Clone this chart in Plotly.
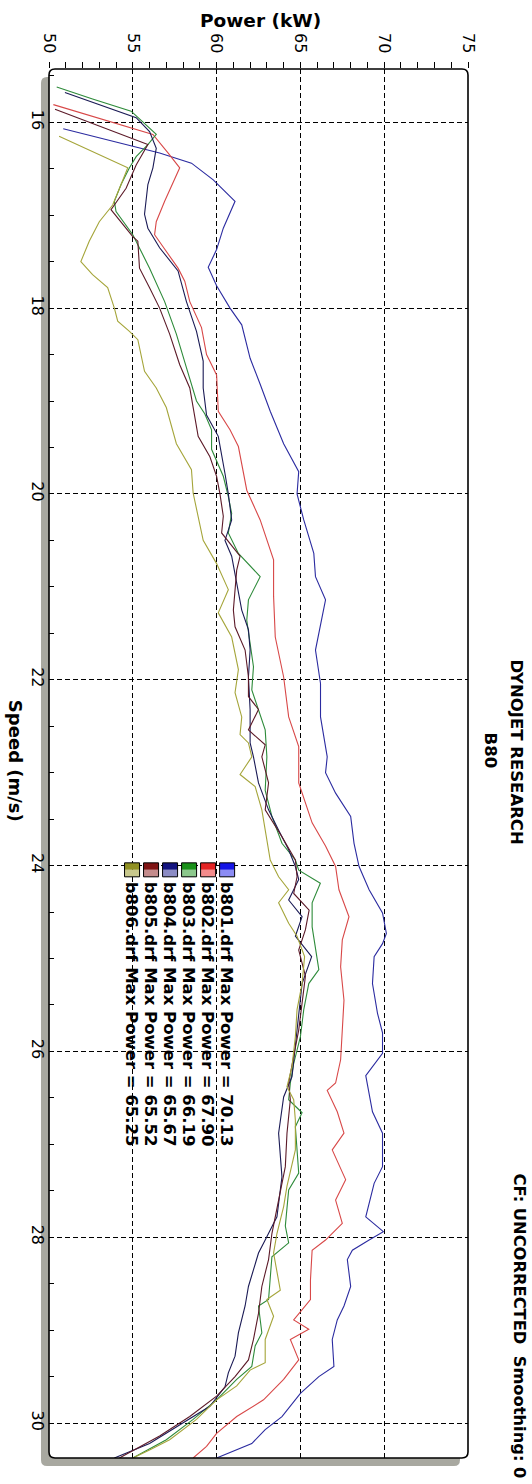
import plotly.graph_objects as go

# ---- dyno run data: speed (m/s) vs power (kW) ----
runs = ["b801.drf", "b802.drf", "b803.drf", "b804.drf", "b805.drf", "b806.drf"]
max_power = [70.13, 67.90, 66.19, 65.67, 65.52, 65.25]

b801_speed = [16.07, 16.25, 16.33, 16.44, 16.62, 16.85, 17.14, 17.37, 17.56, 17.76, 18.00, 18.18,
              18.54, 18.82, 19.11, 19.46, 19.76, 20.00, 20.28, 20.64, 20.89, 21.14, 21.43, 21.68,
              22.04, 22.40, 22.83, 23.00, 23.22, 23.47, 23.76, 24.01, 24.26, 24.51, 24.73, 24.84,
              24.98, 25.27, 25.59, 25.80, 26.02, 26.26, 26.65, 26.88, 27.24, 27.42, 27.78, 27.94,
              28.03, 28.14, 28.24, 28.53, 28.74, 28.89, 29.10, 29.39, 29.50, 29.68, 29.93, 30.07,
              30.22, 30.376]
b801_power = [50.85, 54.9, 56.6, 58.5, 59.8, 61.1, 60.4, 60.0, 59.5, 60.0, 60.8, 61.5,
              62.0, 62.6, 63.2, 64.0, 64.9, 64.8, 65.2, 65.8, 65.9, 66.5, 66.2, 65.9,
              66.2, 66.2, 66.6, 66.5, 67.1, 68.0, 68.2, 68.5, 69.1, 69.9, 70.13, 69.9,
              69.4, 69.3, 69.6, 69.9, 69.9, 68.9, 69.3, 69.9, 69.9, 69.4, 68.9, 69.95,
              69.1, 68.1, 67.8, 68.0, 67.6, 67.2, 66.9, 67.0, 66.1, 65.0, 63.9, 62.9,
              62.1, 60.0]

b802_speed = [15.81, 16.06, 16.13, 16.33, 16.49, 16.85, 17.07, 17.21, 17.37, 17.57, 17.71, 17.93,
              18.21, 18.50, 18.72, 19.11, 19.31, 19.49, 19.96, 20.28, 20.71, 21.10, 21.54, 21.97,
              22.40, 22.72, 23.11, 23.54, 23.79, 24.01, 24.26, 24.55, 24.80, 25.09, 25.45, 25.80,
              26.09, 26.34, 26.42, 26.65, 26.88, 27.06, 27.38, 27.60, 27.85, 28.03, 28.14, 28.46,
              28.67, 28.89, 28.99, 29.10, 29.32, 29.53, 29.75, 29.93, 30.11, 30.25, 30.376]
b802_power = [50.26, 55.0, 56.2, 57.1, 57.8, 56.9, 56.4, 56.3, 56.9, 57.7, 58.1, 58.4,
              59.1, 59.4, 60.0, 60.1, 60.8, 61.3, 61.8, 62.6, 63.4, 63.4, 63.5, 64.0,
              64.3, 64.9, 64.9, 65.7, 66.5, 67.1, 67.3, 67.90, 67.5, 67.4, 67.6, 67.5,
              67.4, 67.1, 66.6, 67.2, 67.6, 66.9, 67.7, 67.1, 67.5, 66.5, 65.7, 65.6,
              65.6, 64.6, 65.5, 64.4, 64.9, 64.0, 62.8, 61.2, 60.0, 59.4, 58.6]

b803_speed = [15.62, 15.75, 15.88, 16.03, 16.13, 16.24, 16.37, 16.49, 16.67, 16.85, 16.96, 17.21,
              17.57, 17.93, 18.28, 18.64, 19.00, 19.14, 19.31, 19.52, 19.81, 20.03, 20.21, 20.42,
              20.64, 20.89, 21.14, 21.36, 21.61, 21.86, 22.11, 22.32, 22.54, 22.83, 23.19, 23.47,
              23.76, 23.94, 24.05, 24.19, 24.40, 24.66, 25.12, 25.27, 25.55, 25.84, 26.13, 26.34,
              26.52, 26.66, 26.81, 27.31, 27.49, 27.88, 28.06, 28.21, 28.67, 28.74, 29.03, 29.17,
              29.39, 29.53, 29.75, 29.96, 30.18, 30.376]
b803_power = [50.46, 52.6, 54.9, 55.8, 56.4, 55.9, 55.2, 54.8, 54.3, 53.9, 54.0, 55.0,
              56.0, 56.9, 57.6, 58.2, 58.8, 59.3, 59.7, 59.7, 60.4, 60.7, 60.9, 60.7,
              61.3, 62.6, 61.9, 61.8, 62.0, 62.2, 62.1, 62.5, 62.9, 63.0, 62.9, 63.3,
              63.9, 64.7, 64.9, 66.19, 65.7, 65.7, 66.1, 65.5, 65.2, 65.0, 64.6, 64.4,
              64.3, 65.1, 64.7, 64.9, 64.3, 64.1, 64.3, 63.3, 63.1, 62.5, 62.7, 62.3,
              62.1, 61.2, 60.0, 58.6, 57.0, 55.0]

b804_speed = [15.68, 15.95, 16.10, 16.28, 16.49, 16.67, 16.99, 17.14, 17.35, 17.60, 17.93, 18.25,
              18.57, 18.86, 19.15, 19.38, 19.78, 20.00, 20.28, 20.50, 20.67, 20.96, 21.25, 21.46,
              21.68, 21.97, 22.32, 22.68, 22.83, 23.11, 23.40, 23.62, 23.83, 24.01, 24.15, 24.37,
              24.55, 24.76, 24.98, 25.27, 25.62, 25.91, 26.27, 26.49, 26.88, 27.35, 27.78, 28.03,
              28.17, 28.53, 28.74, 29.03, 29.28, 29.46, 29.61, 29.82, 30.00, 30.22, 30.376]
b804_power = [50.95, 55.2, 56.0, 56.4, 56.2, 55.9, 55.7, 55.9, 56.6, 57.7, 58.2, 58.8,
              59.2, 59.2, 59.4, 60.1, 60.5, 60.7, 60.9, 60.5, 60.9, 61.2, 61.5, 61.9,
              62.0, 61.9, 62.0, 62.0, 62.2, 62.5, 63.1, 63.7, 64.3, 64.7, 64.9, 64.3,
              65.1, 64.7, 65.67, 65.1, 64.9, 64.7, 64.5, 64.0, 63.7, 63.9, 63.6, 62.9,
              62.5, 61.9, 61.7, 61.3, 61.1, 60.7, 60.5, 59.6, 58.0, 56.0, 53.9]

b805_speed = [15.86, 16.17, 16.24, 16.46, 16.71, 16.94, 17.23, 17.28, 17.57, 17.78, 18.00, 18.28,
              18.61, 18.86, 19.15, 19.38, 19.60, 19.81, 20.00, 20.24, 20.42, 20.67, 20.82, 21.25,
              21.43, 21.68, 21.97, 22.18, 22.32, 22.54, 22.70, 22.83, 23.11, 23.40, 23.69, 23.94,
              24.12, 24.30, 24.48, 24.69, 24.91, 25.19, 25.48, 25.77, 26.05, 26.34, 26.52, 26.88,
              27.24, 27.60, 27.96, 28.24, 28.53, 28.82, 29.10, 29.32, 29.50, 29.71, 29.93, 30.14,
              30.376]
b805_power = [50.36, 54.8, 55.9, 55.2, 54.6, 53.7, 55.0, 55.3, 55.4, 56.0, 56.6, 57.2,
              57.8, 58.4, 58.7, 58.9, 59.6, 60.0, 60.2, 60.4, 60.3, 61.4, 61.2, 61.0,
              61.1, 61.7, 61.9, 61.9, 62.5, 61.9, 62.9, 62.7, 63.1, 62.9, 63.9, 64.7,
              64.8, 64.6, 65.52, 65.3, 64.9, 65.3, 65.1, 64.9, 64.6, 64.3, 64.4, 64.2,
              64.1, 63.7, 63.3, 63.1, 62.7, 62.5, 62.2, 61.9, 61.1, 60.0, 58.4, 56.6,
              54.2]

b806_speed = [16.15, 16.49, 16.67, 16.89, 17.07, 17.28, 17.50, 17.64, 17.78, 18.00, 18.14, 18.25,
              18.34, 18.68, 18.86, 19.07, 19.46, 19.74, 19.99, 20.24, 20.50, 20.75, 21.03, 21.28,
              21.54, 21.89, 22.14, 22.40, 22.59, 22.68, 22.83, 23.02, 23.15, 23.40, 23.72, 23.94,
              24.12, 24.26, 24.40, 24.62, 24.76, 24.98, 25.27, 25.55, 25.84, 26.16, 26.38, 26.52,
              26.74, 27.06, 27.45, 27.67, 27.96, 28.17, 28.57, 28.67, 28.85, 29.10, 29.35, 29.43,
              29.60, 29.75, 29.96, 30.18, 30.29, 30.376]
b806_power = [50.6, 54.7, 54.3, 53.8, 53.0, 52.4, 51.9, 52.6, 53.5, 53.9, 54.1, 54.8,
              55.3, 55.7, 56.4, 57.0, 57.6, 58.5, 58.6, 58.9, 59.2, 60.0, 60.7, 60.1,
              60.9, 61.3, 61.1, 61.5, 61.4, 61.9, 62.1, 61.4, 62.3, 62.7, 63.0, 63.2,
              63.7, 64.3, 63.7, 64.3, 64.8, 65.25, 65.1, 64.8, 64.7, 64.5, 64.2, 64.6,
              64.7, 64.7, 64.2, 64.0, 63.6, 63.4, 63.8, 63.0, 63.4, 62.9, 62.9, 62.0,
              61.2, 60.0, 58.8, 57.2, 56.0, 55.0]

speeds = [b801_speed, b802_speed, b803_speed, b804_speed, b805_speed, b806_speed]
powers = [b801_power, b802_power, b803_power, b804_power, b805_power, b806_power]

line_colors = ["#2b2ba0", "#d84848", "#2e8b3a", "#1a1a55", "#5c1a28", "#a5a53a"]
swatch_top = ["#1414e6", "#e42424", "#189018", "#141480", "#801414", "#909022"]
swatch_bottom = ["#8c8cf4", "#f48c8c", "#8cc88c", "#8c8cc4", "#c48c8c", "#c8c88c"]

power_ticks = [50, 55, 60, 65, 70, 75]
speed_ticks = [16, 18, 20, 22, 24, 26, 28, 30]
power_range = [50, 75]
speed_range = [30.376, 15.4265]

# ---- geometry of the plotting frame (pixels) ----
FIG_W, FIG_H = 532, 1484
L, T = 49, 69
W, H = 418.75, 1389.3
R = FIG_W - L - W
B = FIG_H - T - H


def px_x(x):
    return (x - L) / W


def px_y(y):
    return 1 - (y - T) / H


FONT = "DejaVu Sans"

fig = go.Figure()

# power is plotted along x, speed down the y axis
for name, s, p, c in zip(runs, speeds, powers, line_colors):
    fig.add_trace(go.Scatter(x=p, y=s, mode="lines", name=name,
                             line=dict(color=c, width=1.1), hoverinfo="skip"))


def rounded_path(x0, y0, x1, y1, r_px):
    rx = r_px / W
    ry = r_px / H
    return (f"M {x0 + rx},{y1} L {x1 - rx},{y1} Q {x1},{y1} {x1},{y1 - ry} "
            f"L {x1},{y0 + ry} Q {x1},{y0} {x1 - rx},{y0} L {x0 + rx},{y0} "
            f"Q {x0},{y0} {x0},{y0 + ry} L {x0},{y1 - ry} Q {x0},{y1} {x0 + rx},{y1} Z")


shapes = []
# drop shadow behind the frame
dx, dy = 8 / W, 8 / H
shapes.append(dict(type="path", xref="paper", yref="paper", layer="below",
                   path=rounded_path(-dx, -dy, 1 - dx, 1 - dy, 6),
                   fillcolor="#a8a8a0", line=dict(width=0)))
# white plotting surface
shapes.append(dict(type="path", xref="paper", yref="paper", layer="below",
                   path=rounded_path(0, 0, 1, 1, 6),
                   fillcolor="white", line=dict(width=0)))
# frame outline
shapes.append(dict(type="path", xref="paper", yref="paper", layer="above",
                   path=rounded_path(0, 0, 1, 1, 6),
                   fillcolor="rgba(0,0,0,0)", line=dict(color="black", width=1.6)))

annotations = []

# legend swatches and labels
sw = 15
for i, (name, mp) in enumerate(zip(runs, max_power)):
    cx = 227 - 19 * i
    top, mid, bot = 863, 870, 877
    shapes.append(dict(type="rect", xref="paper", yref="paper", layer="above",
                       x0=px_x(cx - sw / 2), x1=px_x(cx + sw / 2), y0=px_y(mid), y1=px_y(top),
                       fillcolor=swatch_top[i], line=dict(width=0)))
    shapes.append(dict(type="rect", xref="paper", yref="paper", layer="above",
                       x0=px_x(cx - sw / 2), x1=px_x(cx + sw / 2), y0=px_y(bot), y1=px_y(mid),
                       fillcolor=swatch_bottom[i], line=dict(width=0)))
    shapes.append(dict(type="rect", xref="paper", yref="paper", layer="above",
                       x0=px_x(cx - sw / 2), x1=px_x(cx + sw / 2), y0=px_y(bot), y1=px_y(top),
                       fillcolor="rgba(0,0,0,0)", line=dict(color="black", width=1)))
    annotations.append(dict(xref="paper", yref="paper", x=px_x(cx - 1), y=px_y(1014),
                            text=f"{name} Max Power = {mp:.2f}", showarrow=False,
                            textangle=90, xanchor="center", yanchor="middle",
                            font=dict(family=FONT, size=16.5, color="black", weight="bold")))

# axis titles and header text
annotations.append(dict(xref="paper", yref="paper", x=px_x(260), y=px_y(20),
                        text="Power (kW)", showarrow=False, xanchor="center", yanchor="middle",
                        font=dict(family=FONT, size=18.5, color="black", weight="bold")))
annotations.append(dict(xref="paper", yref="paper", x=px_x(15), y=px_y(761),
                        text="Speed (m/s)", showarrow=False, textangle=90,
                        xanchor="center", yanchor="middle",
                        font=dict(family=FONT, size=18, color="black", weight="bold")))
annotations.append(dict(xref="paper", yref="paper", x=px_x(516), y=px_y(752),
                        text="DYNOJET RESEARCH", showarrow=False, textangle=90,
                        xanchor="center", yanchor="middle",
                        font=dict(family=FONT, size=16.5, color="black", weight="bold")))
annotations.append(dict(xref="paper", yref="paper", x=px_x(490), y=px_y(751),
                        text="B80", showarrow=False, textangle=90,
                        xanchor="center", yanchor="middle",
                        font=dict(family=FONT, size=16.5, color="black", weight="bold")))
annotations.append(dict(xref="paper", yref="paper", x=px_x(519), y=px_y(1326),
                        text="CF: UNCORRECTED&nbsp;&nbsp;Smoothing: 0", showarrow=False, textangle=90,
                        xanchor="center", yanchor="middle",
                        font=dict(family=FONT, size=16.3, color="black", weight="bold")))

grid_dash = "5px,3px"

fig.update_layout(
    width=FIG_W, height=FIG_H,
    margin=dict(l=L, r=R, t=T, b=B, pad=0),
    paper_bgcolor="white", plot_bgcolor="rgba(0,0,0,0)",
    showlegend=False,
    shapes=shapes, annotations=annotations,
    xaxis=dict(range=power_range, side="top", tickmode="array", tickvals=power_ticks,
               ticks="outside", ticklen=6, tickwidth=1, tickcolor="black",
               tickangle=90, tickfont=dict(family=FONT, size=16, color="black"),
               ticklabelstandoff=3,
               showgrid=True, gridcolor="black", gridwidth=1, griddash=grid_dash,
               minor=dict(dtick=1, tick0=50, ticks="outside", ticklen=6, tickwidth=1,
                          tickcolor="black", showgrid=False),
               showline=False, zeroline=False, fixedrange=True),
    yaxis=dict(range=speed_range, tickmode="array", tickvals=speed_ticks,
               ticks="inside", ticklen=5, tickwidth=1, tickcolor="black",
               tickangle=90, tickfont=dict(family=FONT, size=16, color="black"),
               showgrid=True, gridcolor="black", gridwidth=1, griddash=grid_dash,
               minor=dict(dtick=0.5, tick0=16, ticks="inside", ticklen=5, tickwidth=1,
                          tickcolor="black", showgrid=False),
               showline=False, zeroline=False, fixedrange=True),
)

fig.write_html("out.html")
